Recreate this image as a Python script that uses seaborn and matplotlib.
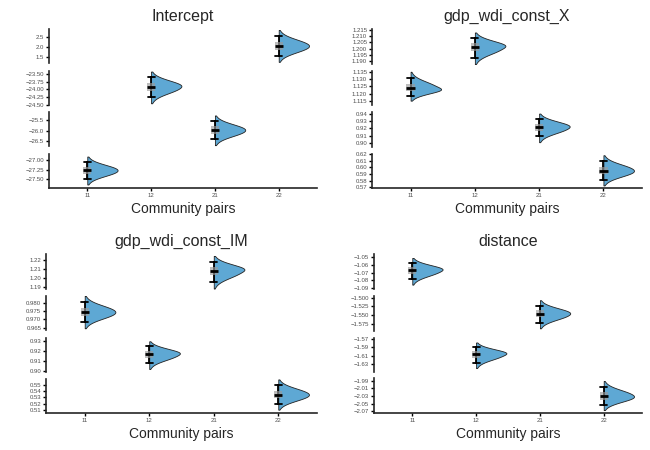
import statistics
import numpy as np
import pandas as pd
import matplotlib
matplotlib.use("Agg")
import matplotlib.pyplot as plt
import seaborn as sns

# Community pairs on the x axis
pairs = ["11", "12", "21", "22"]
titles = ["Intercept", "gdp_wdi_const_X", "gdp_wdi_const_IM", "distance"]

# Each panel is split into 4 rows (top -> bottom); one pair per row
# estimate, 90% interval low/high, y-range of the row, tick labels
intercept_rows = ["22", "12", "21", "11"]
intercept_est = [2.06, -23.91, -25.97, -27.27]
intercept_lo = [1.567, -24.242, -26.419, -27.509]
intercept_hi = [2.55, -23.608, -25.532, -27.036]
intercept_ylim = [(1.183, 2.9), (-24.5, -23.39), (-26.758, -25.097), (-27.75, -26.81)]
intercept_ticks = [["1.5", "2.0", "2.5"],
                   ["-24.50", "-24.25", "-24.00", "-23.75", "-23.50"],
                   ["-26.5", "-26.0", "-25.5"],
                   ["-27.50", "-27.25", "-27.00"]]

exp_rows = ["12", "11", "21", "22"]
exp_est = [1.2014, 1.1239, 0.9218, 0.5953]
exp_lo = [1.1928, 1.1187, 0.9091, 0.5811]
exp_hi = [1.2085, 1.1307, 0.9332, 0.6099]
exp_ylim = [(1.1883, 1.2156), (1.1126, 1.1357), (0.8955, 0.9423), (0.5685, 0.6215)]
exp_ticks = [["1.190", "1.195", "1.200", "1.205", "1.210", "1.215"],
             ["1.115", "1.120", "1.125", "1.130", "1.135"],
             ["0.90", "0.91", "0.92", "0.93", "0.94"],
             ["0.57", "0.58", "0.59", "0.60", "0.61", "0.62"]]

imp_rows = ["21", "11", "12", "22"]
imp_est = [1.2081, 0.9744, 0.9173, 0.5342]
imp_lo = [1.1959, 0.9684, 0.908, 0.5195]
imp_hi = [1.2181, 0.9804, 0.9253, 0.549]
imp_ylim = [(1.1885, 1.2263), (0.9634, 0.984), (0.8993, 0.934), (0.5053, 0.5595)]
imp_ticks = [["1.19", "1.20", "1.21", "1.22"],
             ["0.965", "0.970", "0.975", "0.980"],
             ["0.90", "0.91", "0.92", "0.93"],
             ["0.51", "0.52", "0.53", "0.54", "0.55"]]

dist_rows = ["11", "21", "12", "22"]
dist_est = [-1.0668, -1.5456, -1.6062, -2.03]
dist_lo = [-1.0786, -1.5712, -1.6273, -2.0528]
dist_hi = [-1.0568, -1.5218, -1.5887, -2.0055]
dist_ylim = [(-1.0909, -1.0455), (-1.593, -1.4953), (-1.6497, -1.5659), (-2.0743, -1.984)]
dist_ticks = [["-1.09", "-1.08", "-1.07", "-1.06", "-1.05"],
              ["-1.575", "-1.550", "-1.525", "-1.500"],
              ["-1.63", "-1.61", "-1.59", "-1.57"],
              ["-2.07", "-2.05", "-2.03", "-2.01", "-1.99"]]

panels = [
    (intercept_rows, intercept_est, intercept_lo, intercept_hi, intercept_ylim, intercept_ticks),
    (exp_rows, exp_est, exp_lo, exp_hi, exp_ylim, exp_ticks),
    (imp_rows, imp_est, imp_lo, imp_hi, imp_ylim, imp_ticks),
    (dist_rows, dist_est, dist_lo, dist_hi, dist_ylim, dist_ticks),
]

# standard normal quantiles used to spread the posterior around the estimate
nd = statistics.NormalDist()
zq = np.array([nd.inv_cdf(p) for p in np.linspace(0.004, 0.996, 301)])
z90 = nd.inv_cdf(0.95)


def draws(est, lo, hi):
    up = (hi - est) / z90
    dn = (est - lo) / z90
    return np.where(zq > 0, est + zq * up, est + zq * dn)


sns.set_style("ticks")
plt.rcParams["font.family"] = ["Liberation Sans", "DejaVu Sans"]

W, H = 650, 450
fig = plt.figure(figsize=(6.5, 4.5), dpi=100)

# pixel layout of the panels
panel_x = [(49, 317), (372, 642), (46, 317), (374, 642)]
tops_upper = [29, 70.5, 112, 153.5]
tops_lower = [254, 296, 337.5, 378.5]
row_h = 34.5

violin_col = "#5ea8d4"

for p, (rows, est, lo, hi, ylims, ticks) in enumerate(panels):
    x0, x1 = panel_x[p]
    tops = tops_upper if p < 2 else tops_lower
    for r in range(4):
        ax = fig.add_axes([x0 / W, 1 - (tops[r] + row_h) / H, (x1 - x0) / W, row_h / H])
        df = pd.DataFrame({"pair": rows[r], "side": "right",
                           "value": draws(est[r], lo[r], hi[r])})

        # half violin on the right of each pair
        sns.violinplot(data=df, x="pair", y="value", order=pairs,
                       hue="side", hue_order=["left", "right"],
                       palette={"left": violin_col, "right": violin_col},
                       saturation=1, split=True, dodge=True, inner=None, cut=0,
                       width=0.95, linecolor="#222222", linewidth=0.6,
                       legend=False, ax=ax)
        # small grey box with a black median bar
        sns.boxplot(data=df, x="pair", y="value", order=pairs, width=0.13,
                    whis=0, showcaps=False, showfliers=False, color="#9a9a9a",
                    saturation=1, linewidth=0,
                    medianprops=dict(color="black", linewidth=2.0, zorder=4),
                    ax=ax)
        for patch in ax.patches:
            patch.set_alpha(0.65)
            patch.set_zorder(3)
        sns.pointplot(data=df, x="pair", y="value", order=pairs,
                      errorbar=("pi", 90), capsize=0.11, markers="",
                      linestyles="none", color="black", err_kws={"linewidth": 1.3},
                      ax=ax)

        ax.set_xlim(-0.6, 3.6)
        ax.set_ylim(*ylims[r])
        tvals = [float(t) for t in ticks[r]]
        ax.set_yticks(tvals)
        ax.set_yticklabels([t.replace("-", "\u2212") for t in ticks[r]])
        ax.set_ylabel("")
        ax.tick_params(axis="y", length=2, width=1, pad=1.5, labelsize=4.3,
                       labelcolor="#4d4d4d", color="black")
        ax.spines["top"].set_visible(False)
        ax.spines["right"].set_visible(False)
        ax.spines["left"].set_linewidth(1.2)
        ax.patch.set_alpha(0)

        if r == 0:
            ax.set_title(titles[p], fontsize=11.5, pad=6)
        if r == 3:
            ax.spines["bottom"].set_linewidth(1.2)
            ax.tick_params(axis="x", length=2, width=1, pad=1.5, labelsize=4.3,
                           labelcolor="#4d4d4d", color="black")
            ax.set_xlabel("Community pairs", fontsize=10, labelpad=3)
        else:
            ax.spines["bottom"].set_visible(False)
            ax.set_xticks([])
            ax.set_xlabel("")

fig.savefig("out.png", dpi=100)
